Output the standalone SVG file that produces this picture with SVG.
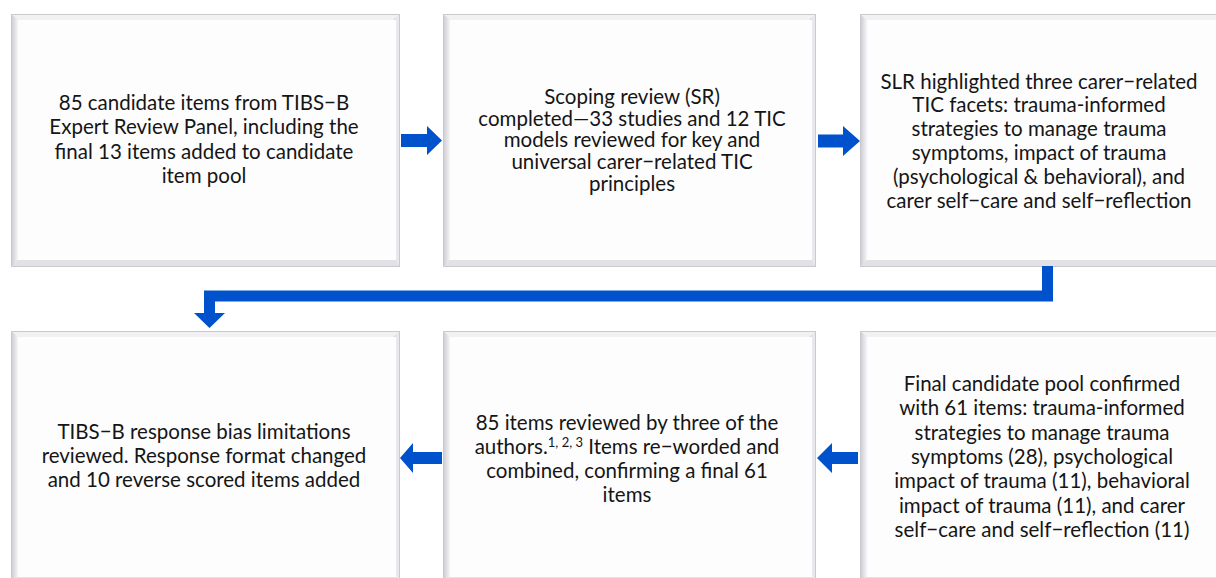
<svg xmlns="http://www.w3.org/2000/svg" width="1216" height="578" viewBox="0 0 1216 578">
<defs>
<style>
.outer{fill:#dcdce0;stroke:#c9c9ce;stroke-width:1}
.bt{fill:#f1f1f4}
.bl{fill:url(#gl)}
.br{fill:#e9e9ed}
.bb{fill:#e2e2e6}
.face{fill:#fdfdfe}
.t{font-family:Lato,"Open Sans","Liberation Sans",sans-serif;font-size:20.5px;fill:#151515;text-anchor:middle}
.arr{fill:#0052CC}
.conn{fill:none;stroke:#0052CC;stroke-width:11;stroke-linejoin:miter}
</style>
<linearGradient id="gl" x1="0" y1="0" x2="1" y2="0">
<stop offset="0" stop-color="#cfcfd4"/>
<stop offset="1" stop-color="#f6f6f8"/>
</linearGradient>
</defs>
<rect width="1216" height="578" fill="#ffffff"/>

<g id="node1">
<rect class="outer" x="11.5" y="14.5" width="388" height="252"/>
<polygon class="bt" points="12,15 399,15 393,20 18,20"/>
<polygon class="bl" points="12,15 18,20 18,260 12,266"/>
<polygon class="br" points="399,15 399,266 396,262 396,18"/>
<polygon class="bb" points="12,266 399,266 396,260 18,260"/>
<rect class="face" x="18" y="20" width="378" height="240"/>
<text class="t"><tspan x="204" y="110">85 candidate items from TIBS−B</tspan><tspan x="204" y="134.3">Expert Review Panel, including the</tspan><tspan x="204" y="158.6">final 13 items added to candidate</tspan><tspan x="204" y="182.9">item pool</tspan></text>
</g>

<g id="node2">
<rect class="outer" x="443.5" y="14.5" width="372" height="252"/>
<polygon class="bt" points="444,15 815,15 809,20 450,20"/>
<polygon class="bl" points="444,15 450,20 450,260 444,266"/>
<polygon class="br" points="815,15 815,266 812,262 812,18"/>
<polygon class="bb" points="444,266 815,266 812,260 450,260"/>
<rect class="face" x="450" y="20" width="362" height="240"/>
<text class="t"><tspan x="632" y="104">Scoping review (SR)</tspan><tspan x="632" y="125.7">completed—33 studies and 12 TIC</tspan><tspan x="632" y="147.4">models reviewed for key and</tspan><tspan x="632" y="169.1">universal carer−related TIC</tspan><tspan x="632" y="190.8">principles</tspan></text>
</g>

<g id="node3">
<rect class="outer" x="860.5" y="14.5" width="362" height="252"/>
<polygon class="bt" points="861,15 1222,15 1216,20 867,20"/>
<polygon class="bl" points="861,15 867,20 867,260 861,266"/>
<polygon class="bb" points="861,266 1222,266 1216,260 867,260"/>
<rect class="face" x="867" y="20" width="355" height="240"/>
<text class="t"><tspan x="1039" y="88.5">SLR highlighted three carer−related</tspan><tspan x="1039" y="112.4">TIC facets: trauma-informed</tspan><tspan x="1039" y="136.3">strategies to manage trauma</tspan><tspan x="1039" y="160.2">symptoms, impact of trauma</tspan><tspan x="1039" y="184.1">(psychological &amp; behavioral), and</tspan><tspan x="1039" y="208">carer self−care and self−reflection</tspan></text>
</g>

<g id="node4">
<rect class="outer" x="11.5" y="331.5" width="388" height="252"/>
<polygon class="bt" points="12,332 399,332 393,337 18,337"/>
<polygon class="bl" points="12,332 18,337 18,577 12,583"/>
<polygon class="br" points="399,332 399,583 396,579 396,335"/>
<polygon class="bb" points="12,583 399,583 396,577 18,577"/>
<rect class="face" x="18" y="337" width="378" height="240"/>
<text class="t"><tspan x="204" y="439">TIBS−B response bias limitations</tspan><tspan x="204" y="463">reviewed. Response format changed</tspan><tspan x="204" y="487">and 10 reverse scored items added</tspan></text>
</g>

<g id="node5">
<rect class="outer" x="443.5" y="331.5" width="372" height="252"/>
<polygon class="bt" points="444,332 815,332 809,337 450,337"/>
<polygon class="bl" points="444,332 450,337 450,577 444,583"/>
<polygon class="br" points="815,332 815,583 812,579 812,335"/>
<polygon class="bb" points="444,583 815,583 812,577 450,577"/>
<rect class="face" x="450" y="337" width="362" height="240"/>
<text class="t"><tspan x="627" y="430">85 items reviewed by three of the</tspan><tspan x="627" y="454">authors.<tspan font-size="13" dy="-7">1, 2, 3</tspan><tspan dy="7"> Items re−worded and</tspan></tspan><tspan x="627" y="478">combined, confirming a final 61</tspan><tspan x="627" y="502">items</tspan></text>
</g>

<g id="node6">
<rect class="outer" x="860.5" y="331.5" width="362" height="252"/>
<polygon class="bt" points="861,332 1222,332 1216,337 867,337"/>
<polygon class="bl" points="861,332 867,337 867,577 861,583"/>
<polygon class="bb" points="861,583 1222,583 1216,577 867,577"/>
<rect class="face" x="867" y="337" width="355" height="240"/>
<text class="t"><tspan x="1042" y="391">Final candidate pool confirmed</tspan><tspan x="1042" y="415.3">with 61 items: trauma-informed</tspan><tspan x="1042" y="439.6">strategies to manage trauma</tspan><tspan x="1042" y="463.9">symptoms (28), psychological</tspan><tspan x="1042" y="488.2">impact of trauma (11), behavioral</tspan><tspan x="1042" y="512.5">impact of trauma (11), and carer</tspan><tspan x="1042" y="536.8">self−care and self−reflection (11)</tspan></text>
</g>

<g id="connectors">
<polygon class="arr" points="401,134 427,134 427,126 442,140.5 427,155 427,147 401,147"/>
<polygon class="arr" points="818,134.5 843,134.5 843,126 860,141 843,156 843,147.5 818,147.5"/>
<path class="conn" d="M1047.5,266 V296 H209.5 V314"/>
<polygon class="arr" points="194,313 225,313 209.5,328"/>
<polygon class="arr" points="442,452 413,452 413,443 400,458 413,473 413,464 442,464"/>
<polygon class="arr" points="858,452 832,452 832,443 817,458 832,473 832,464 858,464"/>
</g>
</svg>
